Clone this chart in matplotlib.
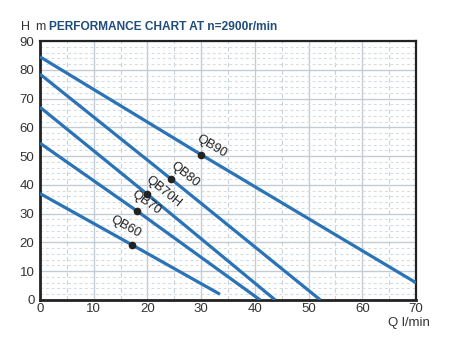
import numpy as np
import matplotlib
matplotlib.use('Agg')
import matplotlib.pyplot as plt

plt.rcParams['font.family'] = ['Liberation Sans', 'DejaVu Sans']

# pump curves (Q l/min, H m)
models = ['QB90', 'QB80', 'QB70H', 'QB70', 'QB60']
q_vals = [[0, 30, 70], [0, 24.3, 52.2], [0, 20, 43.8], [0, 18, 41], [0, 17.2, 33.5]]
h_vals = [[84.5, 50.5, 6], [78.5, 42.2, 0], [67, 36.7, 0], [54.5, 31, 0], [37, 19.1, 2]]
# marker point on each curve (index into the lists above)
mark_idx = 1
# label shift along the curve, points (negative = back toward Q=0)
label_shift = [-8.6, -5.6, -7.5, -9.5, -22.7]

line_col = '#2a73b6'
txt_col = '#222222'

fig = plt.figure(figsize=(4.5, 3.41), dpi=100)
ax = fig.add_axes([40 / 450, 1 - 300 / 341, 376 / 450, 259 / 341])

ax.set_xlim(0, 70)
ax.set_ylim(0, 90)
ax.set_xticks(np.arange(0, 71, 10))
ax.set_yticks(np.arange(0, 91, 10))
ax.set_xticks(np.arange(0, 71, 5), minor=True)
ax.set_yticks(np.arange(0, 91, 2), minor=True)

# grid: solid majors, dashed minors
ax.grid(which='major', color='#c3ccd4', lw=1.0, ls='-', zorder=0)
ax.xaxis.grid(which='minor', color='#c8d2da', lw=0.8, ls=(0, (4, 3)), zorder=0)
ax.yaxis.grid(which='minor', color='#d4dbe1', lw=0.8, ls=(0, (2.5, 2.5)), zorder=0)
ax.set_axisbelow(True)

ax.tick_params(which='both', length=0, labelsize=9.5, colors='#333333', pad=4)
ax.tick_params(axis='x', pad=2.5)
for s in ['left', 'bottom']:
    ax.spines[s].set_linewidth(2.0)
for s in ['top', 'right']:
    ax.spines[s].set_linewidth(1.6)
for s in ax.spines.values():
    s.set_color('#222222')

fig.canvas.draw()
for name, q, h, sh in zip(models, q_vals, h_vals, label_shift):
    ax.plot(q, h, color=line_col, lw=2.3, solid_capstyle='butt', zorder=3)
    mx, my = q[mark_idx], h[mark_idx]
    ax.plot(mx, my, 'o', color='#222222', ms=4.5, zorder=4)
    p0 = ax.transData.transform((q[0], h[0]))
    p1 = ax.transData.transform((q[-1], h[-1]))
    a = np.arctan2(p1[1] - p0[1], p1[0] - p0[0])
    d = np.array([np.cos(a), np.sin(a)])
    n = np.array([-np.sin(a), np.cos(a)])
    off = sh * d + 4.5 * n
    ax.annotate(name, (mx, my), xytext=(off[0], off[1]), textcoords='offset points',
                rotation=np.degrees(a), rotation_mode='anchor', ha='left', va='bottom',
                fontsize=9.3, color=txt_col, zorder=5)

fig.text(21 / 450, 1 - 30 / 341, 'H', fontsize=9, color='#333333', va='baseline')
fig.text(35.5 / 450, 1 - 30 / 341, 'm', fontsize=9, color='#333333', va='baseline')
fig.text(49 / 450, 1 - 30 / 341, 'PERFORMANCE CHART AT n=2900r/min', fontsize=8.6,
         fontweight='bold', color='#1f4c7a', va='baseline')
fig.text(388 / 450, 1 - 326 / 341, 'Q l/min', fontsize=9.5, color='#333333', va='baseline')

fig.savefig('out.png', dpi=100)
